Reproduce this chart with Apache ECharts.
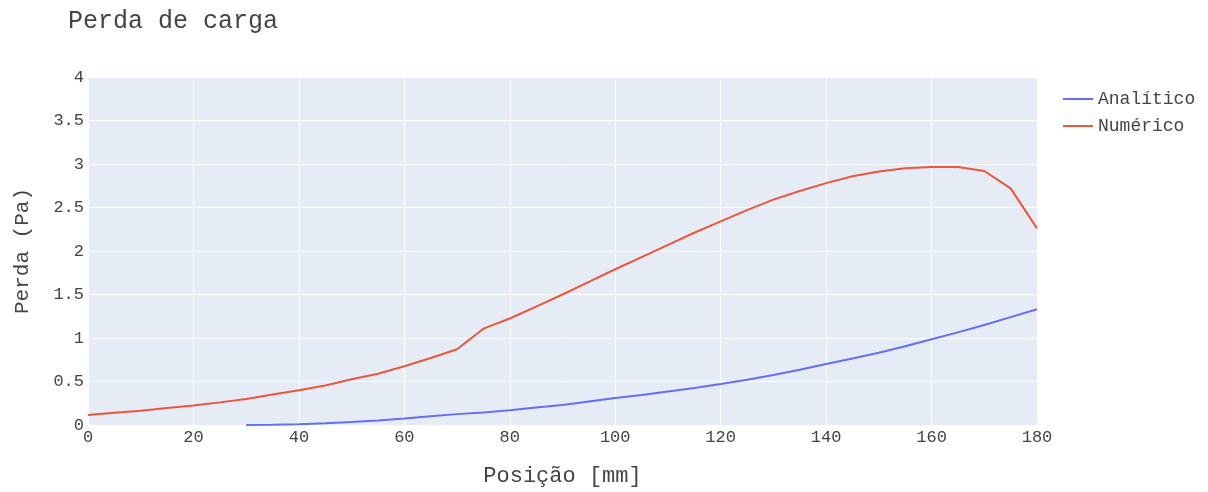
<!DOCTYPE html>
<html>
<head>
<meta charset="utf-8">
<script src="https://cdn.jsdelivr.net/npm/echarts@6/dist/echarts.min.js"></script>
<style>
html,body{margin:0;padding:0;background:#fff;overflow:hidden;}
#chart{width:1208px;height:492px;}
</style>
</head>
<body>
<div id="chart"></div>
<script>
// Data
const posicaoNumerico = [0,5,10,15,20,25,30,35,40,45,50,55,60,65,70,75,80,85,90,95,100,105,110,115,120,125,130,135,140,145,150,155,160,165,170,175,180];
const perdaNumerico = [0.115,0.14,0.165,0.195,0.225,0.26,0.30,0.35,0.40,0.455,0.525,0.59,0.675,0.77,0.87,1.107,1.224,1.36,1.50,1.645,1.79,1.93,2.07,2.21,2.34,2.47,2.59,2.69,2.78,2.86,2.915,2.95,2.965,2.965,2.92,2.72,2.26];
const posicaoAnalitico = [30,35,40,45,50,55,60,65,70,75,80,85,90,95,100,105,110,115,120,125,130,135,140,145,150,155,160,165,170,175,180];
const perdaAnalitico = [0.0,0.003,0.01,0.02,0.035,0.053,0.075,0.10,0.125,0.145,0.169,0.20,0.23,0.27,0.31,0.345,0.385,0.425,0.47,0.52,0.575,0.635,0.70,0.765,0.83,0.905,0.985,1.065,1.15,1.24,1.33];
const seriesNames = ['Analítico','Numérico'];
const titleText = 'Perda de carga';
const xAxisTitle = 'Posição [mm]';
const yAxisTitle = 'Perda (Pa)';

const FONT = '"Liberation Mono", "Courier New", monospace';
const pairs = (xs, ys) => xs.map((x, i) => [x, ys[i]]);

const chart = echarts.init(document.getElementById('chart'), null, {renderer: 'canvas', width: 1208, height: 492});
chart.setOption({
  animation: false,
  backgroundColor: '#ffffff',
  textStyle: {fontFamily: FONT, color: '#444'},
  title: {
    text: titleText,
    left: 63, top: 4,
    textStyle: {fontFamily: FONT, fontSize: 25, fontWeight: 'normal', color: '#444'}
  },
  legend: {
    orient: 'vertical',
    left: 1058, top: 85,
    itemWidth: 30, itemHeight: 2, itemGap: 9,
    icon: 'rect',
    data: seriesNames,
    textStyle: {fontFamily: FONT, fontSize: 18, color: '#444'}
  },
  grid: {
    left: 88, right: 171, top: 77, bottom: 62,
    show: true, backgroundColor: '#E5ECF6', borderWidth: 0,
    containLabel: false
  },
  xAxis: {
    type: 'value', min: 0, max: 180, interval: 20,
    name: xAxisTitle, nameLocation: 'middle', nameGap: 40,
    nameTextStyle: {fontFamily: FONT, fontSize: 22, color: '#444'},
    axisLine: {show: false}, axisTick: {show: false},
    axisLabel: {fontFamily: FONT, fontSize: 17, color: '#444', margin: 4},
    splitLine: {show: true, lineStyle: {color: '#ffffff', width: 1}}
  },
  yAxis: {
    type: 'value', min: 0, max: 4, interval: 0.5,
    name: yAxisTitle, nameLocation: 'middle', nameGap: 55,
    nameTextStyle: {fontFamily: FONT, fontSize: 21, color: '#444'},
    axisLine: {show: false}, axisTick: {show: false},
    axisLabel: {fontFamily: FONT, fontSize: 17, color: '#444', margin: 4},
    splitLine: {show: true, lineStyle: {color: '#ffffff', width: 1}}
  },
  series: [
    {
      name: seriesNames[0], type: 'line', data: pairs(posicaoAnalitico, perdaAnalitico),
      showSymbol: false, symbol: 'none', clip: true,
      lineStyle: {color: '#636EFA', width: 2}, itemStyle: {color: '#636EFA'}
    },
    {
      name: seriesNames[1], type: 'line', data: pairs(posicaoNumerico, perdaNumerico),
      showSymbol: false, symbol: 'none', clip: true,
      lineStyle: {color: '#EF553B', width: 2}, itemStyle: {color: '#EF553B'}
    }
  ]
});
</script>
</body>
</html>
